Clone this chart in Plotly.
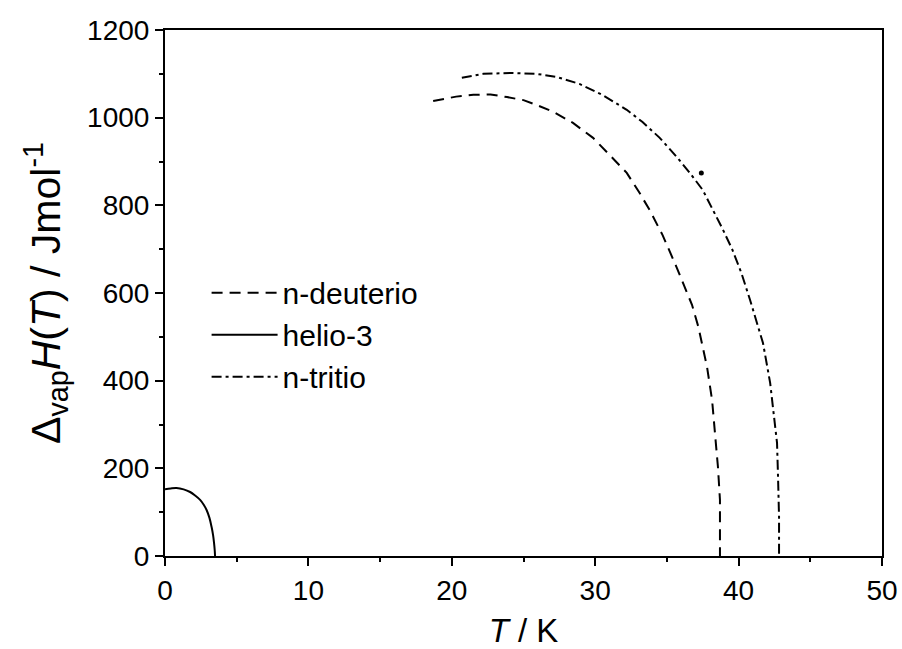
import plotly.graph_objects as go

# n-deuterio
T_d2 = [18.7, 19.2, 20.3, 21.5, 22.7, 23.85, 25.0, 25.9, 27.1, 28.45, 29.85, 31.0, 32.2, 33.1, 33.8, 34.7, 35.7, 36.75, 37.2, 37.8, 38.15, 38.35, 38.56, 38.7, 38.7]
H_d2 = [1038, 1041, 1048, 1052, 1053, 1047, 1040, 1029, 1013, 988, 954, 915, 874, 828, 789, 732, 657, 573, 522, 431, 356, 281, 203, 128, 0]

# helio-3
T_he3 = [0.0, 0.4, 0.8, 1.3, 1.75, 2.1, 2.45, 2.7, 2.9, 3.1, 3.25, 3.35, 3.42, 3.47, 3.49]
H_he3 = [152, 154, 155, 152, 146, 138, 128, 117, 105, 87, 66, 48, 30, 12, 0]

# n-tritio
T_t2 = [20.7, 22.2, 24.1, 25.9, 27.3, 28.9, 30.5, 32.2, 33.3, 34.5, 35.7, 36.6, 37.5, 38.15, 38.9, 39.55, 40.2, 40.8, 41.15, 41.7, 42.2, 42.4, 42.68, 42.75, 42.82, 42.82]
H_t2 = [1091, 1100, 1102, 1100, 1093, 1077, 1052, 1018, 990, 954, 910, 874, 835, 794, 745, 700, 645, 584, 545, 486, 395, 333, 258, 180, 89, 0]

# isolated point
T_pt = [37.4]
H_pt = [874]

x_ticks = [0, 10, 20, 30, 40, 50]
y_ticks = [0, 200, 400, 600, 800, 1000, 1200]

FONT = "Liberation Sans, Arial, sans-serif"

fig = go.Figure()
fig.add_trace(go.Scatter(x=T_d2, y=H_d2, mode="lines", name="n-deuterio",
                         legendgroup="a",
                         line=dict(color="black", width=2, dash="11px,7px")))
fig.add_trace(go.Scatter(x=T_he3, y=H_he3, mode="lines", name="helio-3",
                         legendgroup="b",
                         line=dict(color="black", width=2, shape="spline")))
fig.add_trace(go.Scatter(x=T_t2, y=H_t2, mode="lines", name="n-tritio",
                         legendgroup="c",
                         line=dict(color="black", width=2, dash="10px,4px,3px,4px")))
fig.add_trace(go.Scatter(x=T_pt, y=H_pt, mode="markers", showlegend=False,
                         marker=dict(color="black", size=5)))

axis_common = dict(
    showline=True, linecolor="black", linewidth=2, mirror=True,
    ticks="outside", ticklen=8, tickwidth=1.5, tickcolor="black",
    showgrid=False, zeroline=False, automargin=False,
    tickfont=dict(family=FONT, size=28, color="black"),
)

fig.update_xaxes(range=[0, 50], tickvals=x_ticks,
                 minor=dict(dtick=5, ticks="outside", ticklen=4, tickwidth=1.5, tickcolor="black"),
                 title=dict(text="<i>T</i> / K", font=dict(family=FONT, size=33, color="black"), standoff=16),
                 **axis_common)
fig.update_yaxes(range=[0, 1200], tickvals=y_ticks,
                 minor=dict(dtick=100, ticks="outside", ticklen=4, tickwidth=1.5, tickcolor="black"),
                 title=dict(text="Δ<sub>vap</sub><i>H</i>(<i>T</i>) / Jmol<sup>-1</sup>",
                            font=dict(family=FONT, size=41, color="black"), standoff=14),
                 **axis_common)

fig.update_layout(
    width=902, height=649,
    margin=dict(l=165, r=20, t=30, b=93),
    paper_bgcolor="white", plot_bgcolor="white",
    showlegend=True,
    legend=dict(x=0.058, y=0.55, xanchor="left", yanchor="top",
                font=dict(family=FONT, size=30, color="black"),
                itemwidth=66,
                bgcolor="rgba(0,0,0,0)", traceorder="grouped", tracegroupgap=0),
)

fig.write_html("out.html")
